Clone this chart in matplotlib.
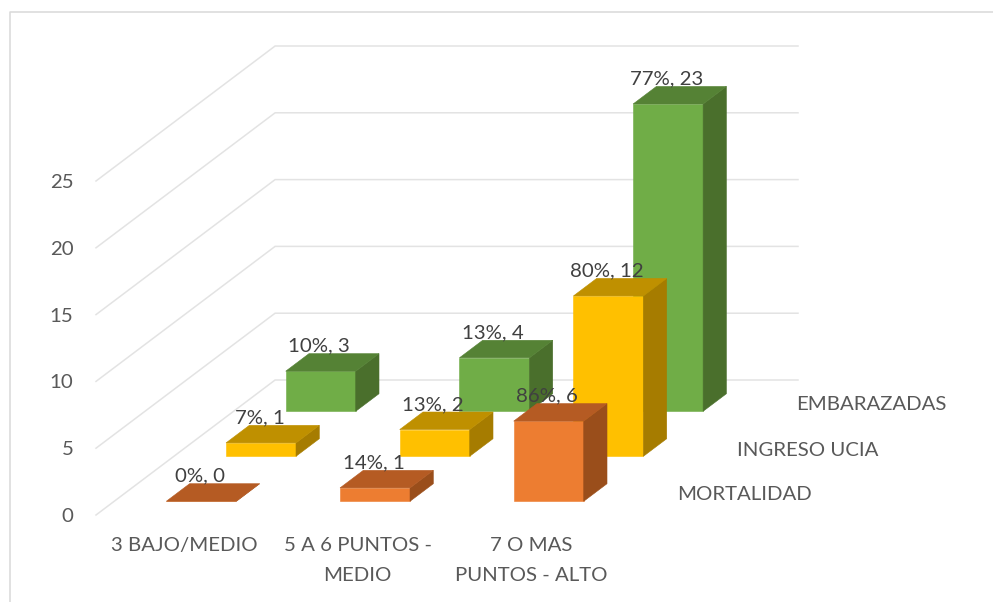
import matplotlib
matplotlib.use("Agg")
import matplotlib.pyplot as plt
from matplotlib.patches import Polygon

# ---------- data ----------
categories = ["3 BAJO/MEDIO", "5 A 6 PUNTOS -\nMEDIO", "7 O MAS\nPUNTOS - ALTO"]
series_names = ["MORTALIDAD", "INGRESO UCIA", "EMBARAZADAS"]
mortalidad = [0, 1, 6]
ingreso = [1, 2, 12]
embarazadas = [3, 4, 23]
mortalidad_pct = ["0%", "14%", "86%"]
ingreso_pct = ["7%", "13%", "80%"]
embarazadas_pct = ["10%", "13%", "77%"]
value_ticks = [0, 5, 10, 15, 20, 25]

values = [mortalidad, ingreso, embarazadas]
pcts = [mortalidad_pct, ingreso_pct, embarazadas_pct]
front = ["#ED7D31", "#FFC000", "#70AD47"]
top = ["#B55B23", "#BF9000", "#558235"]
side = ["#9A4E1B", "#A67C00", "#4A6F2C"]

# ---------- oblique projection (pixel space) ----------
FONT = "Lato"
FS = 14.7
X0, Y0 = 96.0, 515.0      # front-left floor corner
UNIT = 13.36              # px per value unit
CAT = 173.7               # px per category
ROW_DX, ROW_DY = 59.7, -45.0   # px per series row
WALL_R = 798.0


def proj(cat, row, val):
    return (X0 + cat * CAT + row * ROW_DX, Y0 + row * ROW_DY - val * UNIT)


fig = plt.figure(figsize=(9.93, 6.02), dpi=100)
ax = fig.add_axes([0, 0, 1, 1])
ax.set_xlim(0, 993)
ax.set_ylim(602, 0)
ax.axis("off")

# chart border (left & top only are visible)
ax.plot([10.3, 10.3, 993], [602, 11.5, 11.5], color="#D9D9D9", lw=1.1, zorder=1)

# gridlines
for v in value_ticks:
    xa, ya = proj(0, 0, v)
    xb, yb = proj(0, 3, v)
    ax.plot([xa, xb, WALL_R], [ya, yb, yb], color="#E3E3E3", lw=1.1, zorder=1,
            solid_joinstyle="miter")
    ax.text(73.5, ya + 1.5, str(v), ha="right", va="center", fontsize=FS,
            color="#595959", family=FONT)

# bars: back rows first
BAR_W = 0.403
GAP_C = 0.3
GAP_R = 0.305
DEPTH = 0.39
z = 3
labels = []
for r in range(2, -1, -1):
    for c in range(3):
        v = values[r][c]
        c0, c1 = c + GAP_C, c + GAP_C + BAR_W
        r0, r1 = r + GAP_R, r + GAP_R + DEPTH
        fp = [proj(c0, r0, 0), proj(c1, r0, 0), proj(c1, r0, v), proj(c0, r0, v)]
        tp = [proj(c0, r0, v), proj(c1, r0, v), proj(c1, r1, v), proj(c0, r1, v)]
        sp = [proj(c1, r0, 0), proj(c1, r1, 0), proj(c1, r1, v), proj(c1, r0, v)]
        for pts, col in ((fp, front[r]), (sp, side[r]), (tp, top[r])):
            ax.add_patch(Polygon(pts, closed=True, fc=col, ec=col, lw=0.4,
                                 zorder=z, joinstyle="miter"))
        z += 1
        lx, ly = proj((c0 + c1) / 2, r0, v)
        labels.append((lx - 1.5, ly - 25, f"{pcts[r][c]}, {v}"))

for lx, ly, t in labels:
    ax.text(lx, ly, t, ha="center", va="center", fontsize=FS,
            color="#404040", family=FONT, zorder=50)

# category labels
for c, name in enumerate(categories):
    xc = proj(c + 0.5, 0, 0)[0]
    ax.text(xc + 1, 537, name, ha="center", va="top", fontsize=FS,
            color="#595959", family=FONT, linespacing=1.94)

# series labels
for r, (name, ypos) in enumerate(zip(series_names, [494, 450, 404])):
    ax.text(677 + r * 59.7, ypos, name, ha="left", va="center", fontsize=FS,
            color="#595959", family=FONT)

fig.savefig("out.png", dpi=100)
